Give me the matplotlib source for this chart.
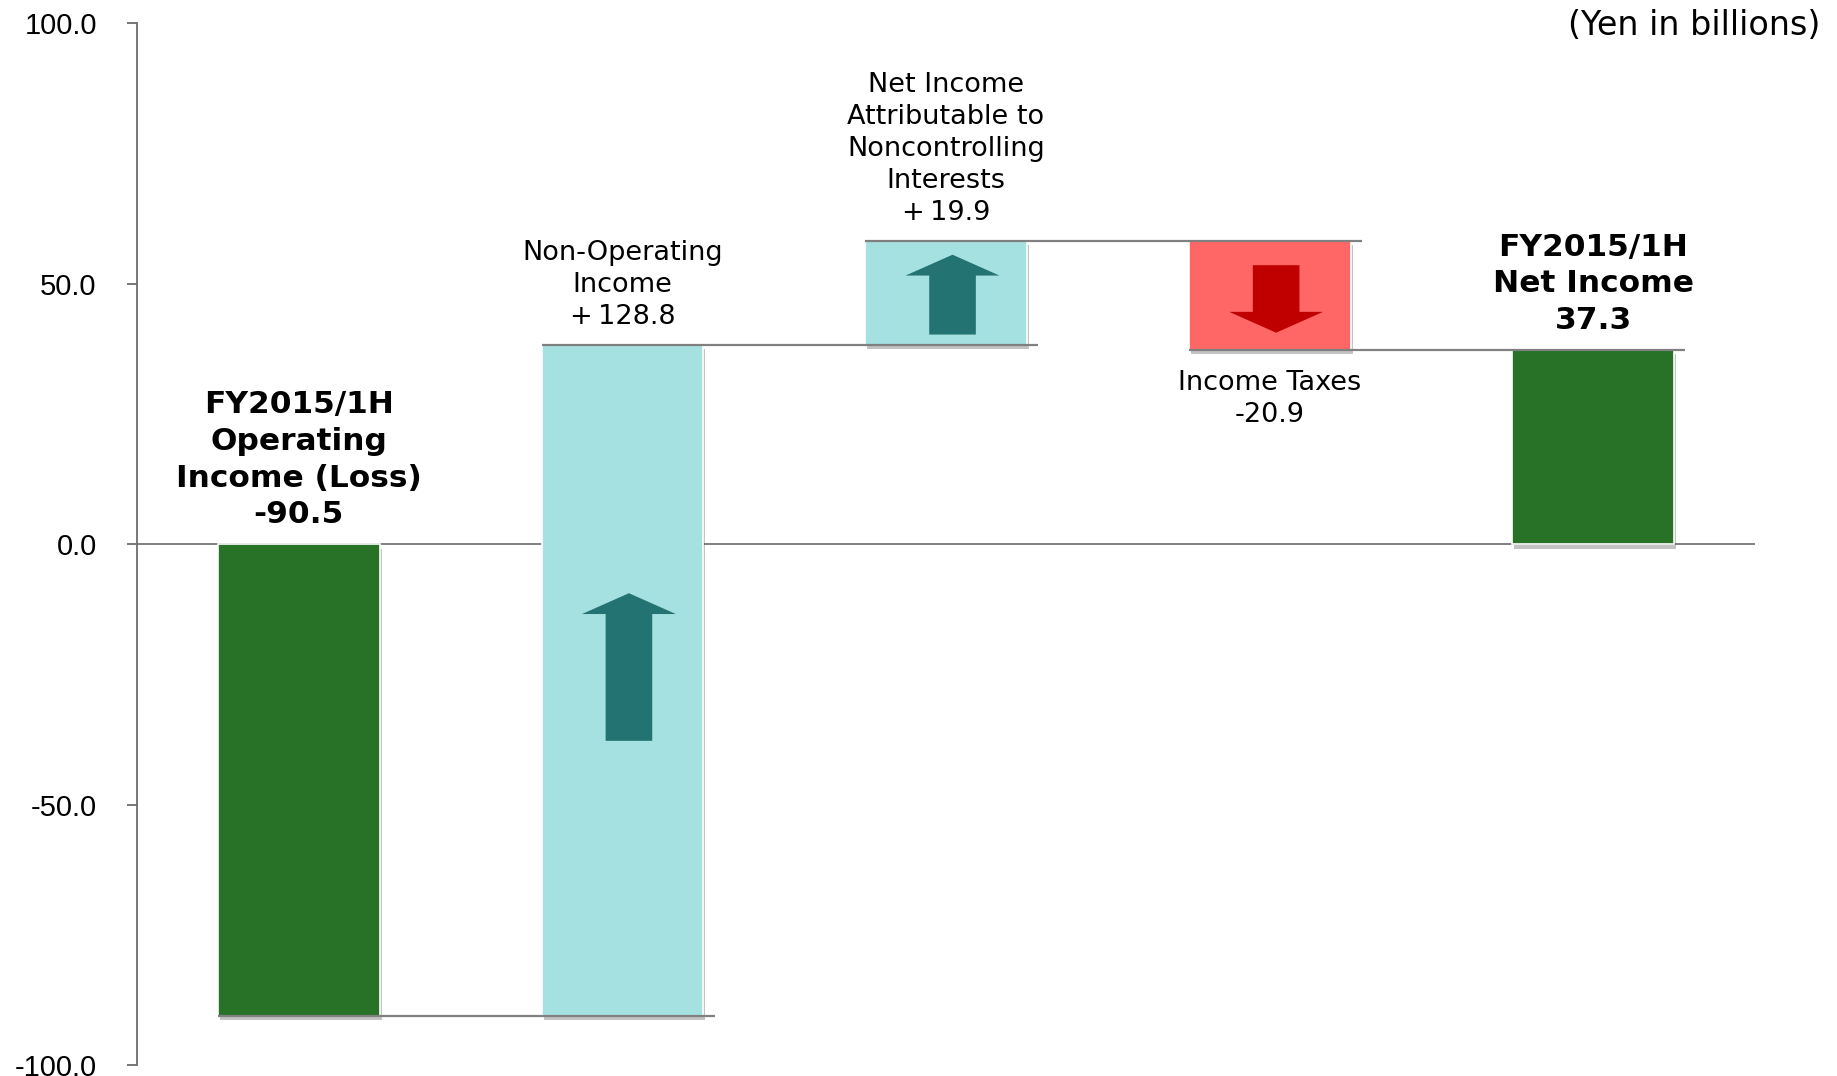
import matplotlib
matplotlib.use('Agg')
import matplotlib.pyplot as plt
import matplotlib.patheffects as pe
from matplotlib.patches import Polygon

# waterfall data (Yen in billions)
labels = [
    'FY2015/1H\nOperating\nIncome (Loss)\n-90.5',
    'Non-Operating\nIncome\n+\u2009128.8',
    'Net Income\nAttributable to\nNoncontrolling\nInterests\n+\u200919.9',
    'Income Taxes\n-20.9',
    'FY2015/1H\nNet Income\n37.3',
]
values = [-90.5, 128.8, 19.9, -20.9, 37.3]
is_total = [True, False, False, False, True]

yticks = [-100.0, -50.0, 0.0, 50.0, 100.0]

GREEN = '#277227'
TEAL = '#a5e1e0'
RED = '#ff6666'
ARROW_UP = '#237372'
ARROW_DOWN = '#c00000'
LINE = '#808080'

FONT = ['DejaVu Sans', 'Noto Sans CJK JP']

# running totals
bottoms, tops = [], []
running = 0.0
for v, tot in zip(values, is_total):
    if tot:
        bottoms.append(0.0)
        running = v
    else:
        bottoms.append(running)
        running += v
    tops.append(bottoms[-1] + v)

colors = []
for v, tot in zip(values, is_total):
    if tot:
        colors.append(GREEN)
    elif v >= 0:
        colors.append(TEAL)
    else:
        colors.append(RED)

fig = plt.figure(figsize=(18.37, 10.76), dpi=100)
ax = fig.add_axes([0.0746, 0.0098, 0.8808, 0.9684])

x = list(range(len(values)))
width = 0.5
shadow = [pe.SimplePatchShadow(offset=(1.5, -3), shadow_rgbFace='#555555', alpha=0.35), pe.Normal()]
bars = ax.bar(x, values, width=width, bottom=bottoms, color=colors,
              edgecolor='white', linewidth=1.2, zorder=2)
for b in bars:
    b.set_path_effects(shadow)

# connector lines between bars
for i in range(len(values) - 1):
    level = tops[i]
    ax.plot([x[i] - width / 2, x[i + 1] + width / 2 + 0.035], [level, level],
            color=LINE, lw=1.6, zorder=3, solid_capstyle='butt')

ax.axhline(0, color=LINE, lw=1.4, zorder=1)


def draw_arrow(xc, y_tail, y_tip, color):
    head_h = 4.0 if y_tip > y_tail else -4.0
    hw, sw = 0.145, 0.072
    yb = y_tip - head_h
    pts = [(xc - sw, y_tail), (xc - sw, yb), (xc - hw, yb), (xc, y_tip),
           (xc + hw, yb), (xc + sw, yb), (xc + sw, y_tail)]
    ax.add_patch(Polygon(pts, closed=True, facecolor=color, edgecolor='none', zorder=4))


# arrows inside the change bars, placed as fractions of each bar's span
arrow_spans = {1: (0.41, 0.63), 2: (0.10, 0.87), 3: (0.22, 0.84)}
for i, (f0, f1) in arrow_spans.items():
    lo, hi = bottoms[i], tops[i]
    y_tail = lo + (hi - lo) * f0
    y_tip = lo + (hi - lo) * f1
    draw_arrow(x[i] + 0.02, y_tail, y_tip, ARROW_UP if values[i] > 0 else ARROW_DOWN)

# labels
for i, lab in enumerate(labels):
    upper = max(bottoms[i], tops[i])
    lower = min(bottoms[i], tops[i])
    if is_total[i]:
        ax.annotate(lab, (x[i], max(upper, 0)), xytext=(0, 11), textcoords='offset points',
                    ha='center', va='bottom', fontsize=22.5, fontweight='bold',
                    family=FONT, linespacing=1.33)
    elif values[i] > 0:
        ax.annotate(lab, (x[i], upper), xytext=(0, 11), textcoords='offset points',
                    ha='center', va='bottom', fontsize=19.5, family=FONT, linespacing=1.30)
    else:
        ax.annotate(lab, (x[i], lower), xytext=(0, -14), textcoords='offset points',
                    ha='center', va='top', fontsize=19.5, family=FONT, linespacing=1.30)

fig.text(0.991, 0.976, '(Yen in billions)', ha='right', va='center', fontsize=24, family=FONT)

ax.set_xlim(-0.5, 4.5)
ax.set_ylim(-100, 100)
ax.set_yticks(yticks)
ax.set_yticklabels([f'{t:.1f}' for t in yticks], family='Liberation Sans', fontsize=21)
ax.tick_params(axis='y', length=7, width=1.3, color='#6d6d6d', pad=22)
ax.tick_params(axis='x', bottom=False, labelbottom=False)
for s in ['top', 'right', 'bottom']:
    ax.spines[s].set_visible(False)
ax.spines['left'].set_color('#6d6d6d')
ax.spines['left'].set_linewidth(1.3)

fig.savefig('out.png', dpi=100)
